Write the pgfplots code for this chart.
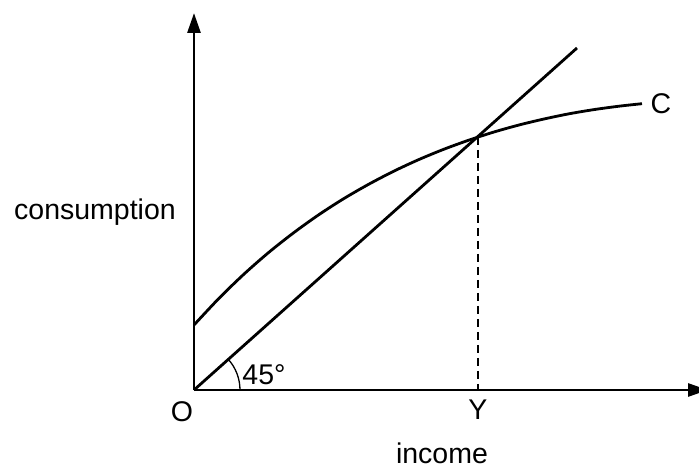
\documentclass[border=0pt]{standalone}
\usepackage{fontspec}
\setmainfont{Liberation Sans}
\usepackage{pgfplots}
\pgfplotsset{compat=1.18}
\usetikzlibrary{arrows.meta}

\begin{document}
\begin{tikzpicture}[font=\fontsize{28.5}{34}\selectfont]
\begin{axis}[
    x=1pt, y=1pt,
    anchor=origin, at={(0,0)},
    xmin=0, xmax=514,
    ymin=0, ymax=377,
    axis lines=left,
    axis line style={line width=2.8pt, -{Triangle[length=20pt,width=13pt]}},
    ticks=none,
    clip=false,
]
% consumption function C
\addplot[line width=2.8pt, smooth] coordinates {
    (0,65) (25,91.7) (50,115.9) (75,137.8) (100,157.5) (125,175.4)
    (150,191.5) (175,205.9) (200,218.9) (225,230.5) (250,240.8)
    (275,249.9) (300,258.0) (325,265.0) (350,271.0) (375,276.2)
    (400,280.4) (425,283.8) (448,286.3)
};
% 45 degree line
\addplot[line width=2.8pt] coordinates {(0,0) (383,342)};
% Y drop line
\addplot[line width=1.3pt, dash pattern=on 8pt off 5pt] coordinates {(284,253) (284,0)};

\draw[line width=1.3pt] (axis cs:46,0) arc[start angle=0, end angle=41.8, radius=46pt];

\node at (axis cs:70,15) {45°};
\node at (axis cs:467,286) {C};
\node at (axis cs:-12,-22) {O};
\node at (axis cs:284,-20) {Y};
\node at (axis cs:248,-63) {income};
\node at (axis cs:-99,178) {consumption};
\end{axis}
\pgfresetboundingbox
\path[use as bounding box] (-194pt,-81pt) rectangle (505pt,390pt);
\end{tikzpicture}
\end{document}
